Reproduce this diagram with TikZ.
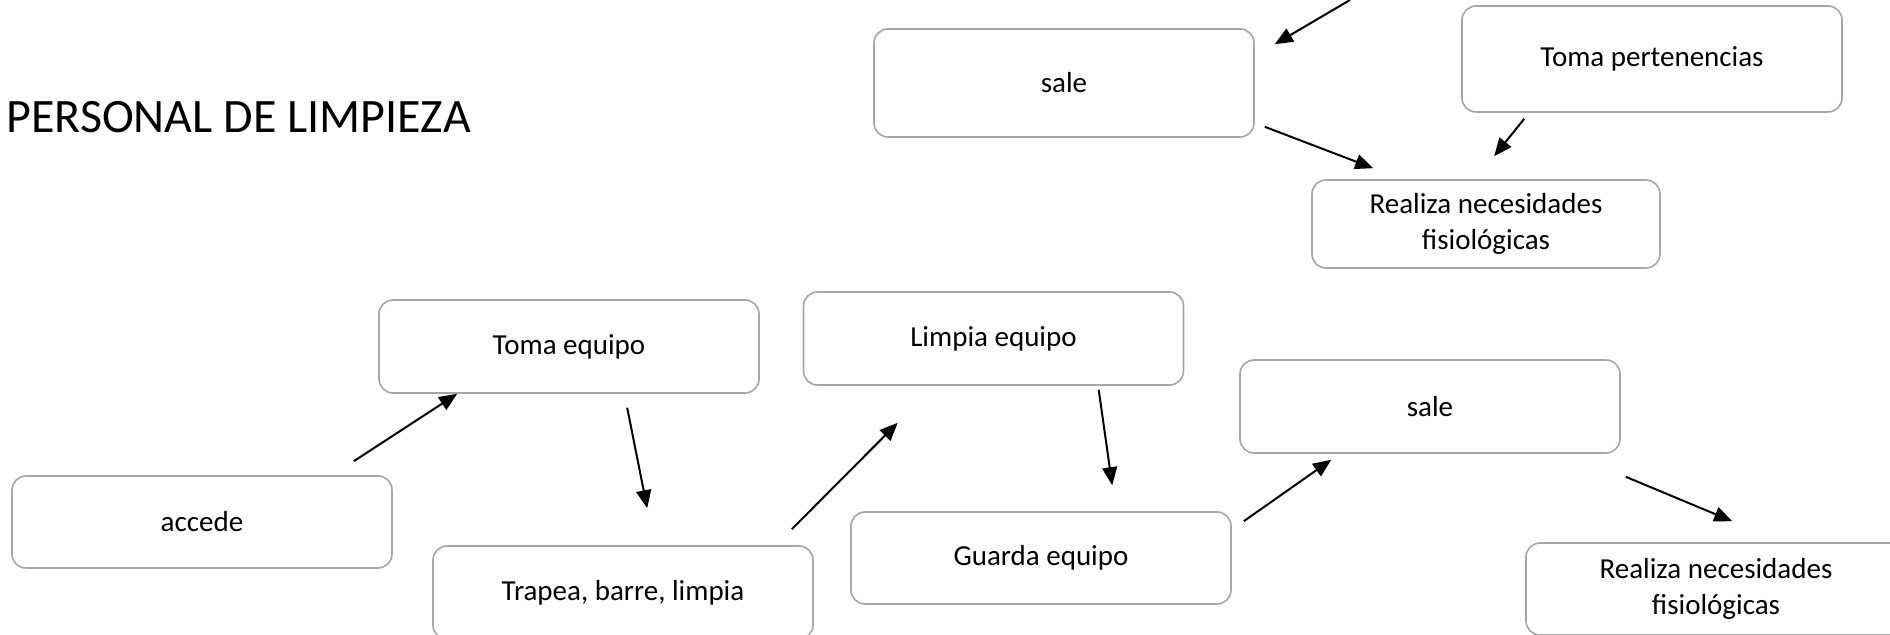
\documentclass[tikz,border=0pt]{standalone}
\usepackage{fontspec}
\setmainfont{Carlito}
\usepackage{tikz}
\usetikzlibrary{calc,arrows.meta}
\definecolor{BoxGray}{RGB}{166,166,166}

\tikzset{
  paso/.style={draw=BoxGray, line width=0.8pt, rounded corners=7pt,
    minimum width=190pt, minimum height=46pt, inner sep=0pt,
    align=center, font=\fontsize{14.5}{18}\selectfont},
  flecha/.style={-{Triangle[length=9pt,width=7.5pt]}, line width=1pt}
}

\begin{document}
\begin{tikzpicture}[x=0.5pt, y=-0.5pt]
  \useasboundingbox (0,0) rectangle (1890,635);

  % Title
  \node[anchor=base west, inner sep=0pt, font=\fontsize{24}{28}\selectfont] (titulo) at (6,133) {PERSONAL DE LIMPIEZA};

  % Upper branch
  \node[paso, minimum height=54pt] (sale1) at (1064,83) {sale};
  \node[paso, minimum height=53pt] (tomap) at (1652,59) {Toma pertenencias};
  \node[paso, minimum width=174pt, minimum height=44pt] (real1) at (1486,224) {Realiza necesidades\\fisiológicas};
  \coordinate (arriba) at (1350,0);

  % Main sequence
  \node[paso, minimum height=46.5pt] (tomaeq) at (569,346.5) {Toma equipo};
  \node[paso, minimum height=46.5pt] (limpia) at (993.5,338.5) {Limpia equipo};
  \node[paso, minimum height=46.5pt] (sale2) at (1430,406.5) {sale};
  \node[paso] (accede) at (202,522) {accede};
  \node[paso, minimum height=46.5pt] (trapea) at (623,592.5) {Trapea, barre, limpia};
  \node[paso] (guarda) at (1041,558) {Guarda equipo};
  \node[paso] (real2) at (1716,589) {Realiza necesidades\\fisiológicas};

  % Arrows, upper branch
  \draw[flecha] (arriba) -- ($(sale1.north east)+(20,16)$);
  \draw[flecha] ($(sale1.south east)+(10,-11)$) -- ($(real1.north west)+(62,-11)$);
  \draw[flecha] ($(tomap.south west)+(63,6)$) -- ($(real1.north west)+(183,-23)$);

  % Arrows, main sequence
  \draw[flecha] ($(accede.north east)+(-39,-14)$) -- ($(tomaeq.south west)+(79,0)$);
  \draw[flecha] ($(tomaeq.south west)+(249,14)$) -- ($(trapea.north west)+(215,-37)$);
  \draw[flecha] ($(trapea.north east)+(-22,-16)$) -- ($(limpia.south west)+(95,37)$);
  \draw[flecha] ($(limpia.south west)+(296,4)$) -- ($(guarda.north west)+(262,-26)$);
  \draw[flecha] ($(guarda.north east)+(12,10)$) -- ($(sale2.south west)+(92,6)$);
  \draw[flecha] ($(sale2.south east)+(5,23)$) -- ($(real2.north west)+(207,-21)$);
\end{tikzpicture}
\end{document}
